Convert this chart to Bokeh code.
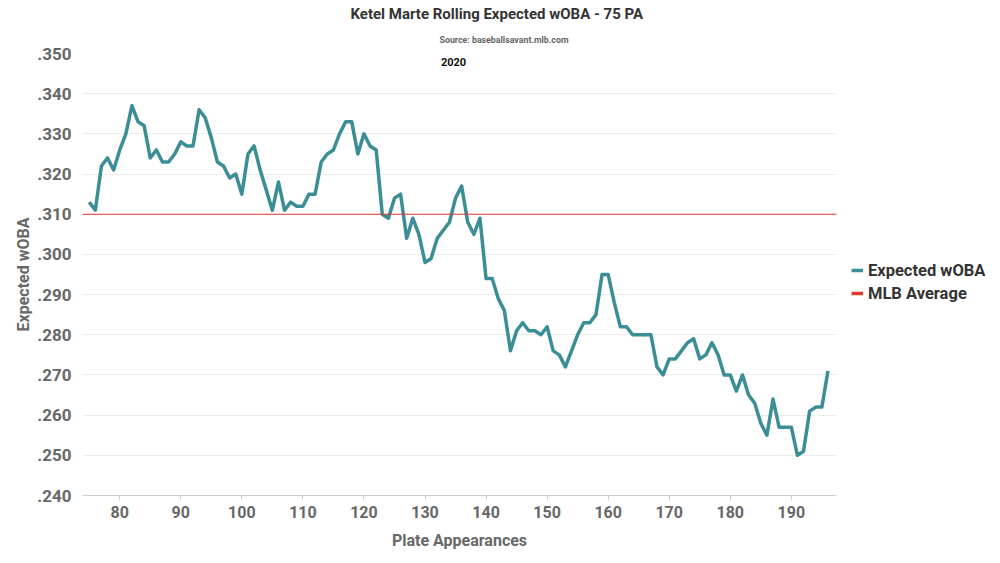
from bokeh.plotting import figure
from bokeh.models import (FixedTicker, CustomJSTickFormatter, Label, Legend, Title, Span,
                          LegendItem, ColumnDataSource, Range1d, CDSView, IndexFilter)
from bokeh.embed import file_html
from bokeh.resources import INLINE

# ---- data ----
plate_appearances = list(range(75, 197))
xwoba = [
    .313, .311, .322, .324, .321, .326, .330, .337, .333, .332,
    .324, .326, .323, .323, .325, .328, .327, .327, .336, .334,
    .329, .323, .322, .319, .320, .315, .325, .327, .321, .316,
    .311, .318, .311, .313, .312, .312, .315, .315, .323, .325,
    .326, .330, .333, .333, .325, .330, .327, .326, .310, .309,
    .314, .315, .304, .309, .305, .298, .299, .304, .306, .308,
    .314, .317, .308, .305, .309, .294, .294, .289, .286, .276,
    .281, .283, .281, .281, .280, .282, .276, .275, .272, .276,
    .280, .283, .283, .285, .295, .295, .288, .282, .282, .280,
    .280, .280, .280, .272, .270, .274, .274, .276, .278, .279,
    .274, .275, .278, .275, .270, .270, .266, .270, .265, .263,
    .258, .255, .264, .257, .257, .257, .250, .251, .261, .262,
    .262, .271,
]
mlb_average = 0.310
x_ticks = [80, 90, 100, 110, 120, 130, 140, 150, 160, 170, 180, 190]
y_ticks = [0.24, 0.25, 0.26, 0.27, 0.28, 0.29, 0.30, 0.31, 0.32, 0.33, 0.34, 0.35]
series_names = ["Expected wOBA", "MLB Average"]
title_text = "Ketel Marte Rolling Expected wOBA - 75 PA"
source_text = "Source: baseballsavant.mlb.com"
season_text = "2020"

FONT = "Roboto"
TEAL = "#3b8e95"
RED = "#e0382f"
GRAY = "#676767"

p = figure(frame_width=754, frame_height=442, output_backend="svg", toolbar_location=None,
           x_range=Range1d(73.9, 197.4), y_range=Range1d(0.240, 0.350),
           min_border_left=82, min_border_right=150, min_border_top=52,
           min_border_bottom=60)
p.outline_line_color = None
p.background_fill_color = "white"
p.border_fill_color = "white"

# titles
p.title.text = title_text
p.title.align = "left"
p.title.offset = 268
p.title.standoff = 4
p.title.text_font = FONT
p.title.text_font_style = "bold"
p.title.text_font_size = "15px"
p.title.text_color = "#333333"
p.add_layout(Title(text=source_text, align="left", offset=357, standoff=17,
                   text_font=FONT, text_font_style="bold", text_font_size="8.8px",
                   text_color="#666666"), "above")

src = ColumnDataSource(dict(x=plate_appearances, y=xwoba))
r_line = p.line("x", "y", source=src, line_color=TEAL, line_width=3.5,
                line_join="round")

p.add_layout(Span(location=mlb_average, dimension="width", line_color=RED,
                  line_width=1.1))
# legend swatch for the average: a one-point line (draws nothing on the plot)
r_avg = p.line("x", "y", source=src, line_color=RED, line_width=3.5,
               view=CDSView(filter=IndexFilter([0])))

# axes
p.xaxis.ticker = FixedTicker(ticks=x_ticks)
p.yaxis.ticker = FixedTicker(ticks=y_ticks)
p.yaxis.formatter = CustomJSTickFormatter(code="return tick.toFixed(3).replace(/^0/, '');")
p.xgrid.grid_line_color = None
p.ygrid.grid_line_color = "#ebebeb"
p.ygrid.grid_line_width = 1

p.yaxis.axis_line_color = None
p.yaxis.major_tick_line_color = None
p.yaxis.minor_tick_line_color = None
p.yaxis.major_label_standoff = 5
p.yaxis.major_label_text_font = FONT
p.yaxis.major_label_text_font_style = "bold"
p.yaxis.major_label_text_font_size = "17px"
p.yaxis.major_label_text_color = GRAY
p.yaxis.axis_label = "Expected wOBA"
p.yaxis.axis_label_text_font = FONT
p.yaxis.axis_label_text_font_style = "bold"
p.yaxis.axis_label_text_font_size = "16px"
p.yaxis.axis_label_text_color = GRAY
p.yaxis.axis_label_standoff = 1

p.xaxis.axis_line_color = "#d0d0d0"
p.xaxis.major_tick_line_color = "#d0d0d0"
p.xaxis.major_tick_out = 5
p.xaxis.major_tick_in = 0
p.xaxis.minor_tick_line_color = None
p.xaxis.major_label_standoff = 5
p.xaxis.major_label_text_font = FONT
p.xaxis.major_label_text_font_style = "bold"
p.xaxis.major_label_text_font_size = "16px"
p.xaxis.major_label_text_color = GRAY
p.xaxis.axis_label = "Plate Appearances"
p.xaxis.axis_label_text_font = FONT
p.xaxis.axis_label_text_font_style = "bold"
p.xaxis.axis_label_text_font_size = "16px"
p.xaxis.axis_label_text_color = GRAY
p.xaxis.axis_label_standoff = 10

legend = Legend(items=[LegendItem(label=series_names[0], renderers=[r_line]),
                       LegendItem(label=series_names[1], renderers=[r_avg])],
                location=(15, 192), orientation="vertical")
legend.label_text_font = FONT
legend.label_text_font_style = "bold"
legend.label_text_font_size = "16.5px"
legend.label_text_color = "#333333"
legend.glyph_width = 12
legend.glyph_height = 20
legend.label_standoff = 5
legend.spacing = 3
legend.padding = 0
legend.margin = 0
legend.border_line_color = None
legend.background_fill_alpha = 0
p.add_layout(legend, "right")

p.add_layout(Label(x=371, y=434, x_units="screen", y_units="screen", text=season_text,
                   text_font=FONT, text_font_style="bold", text_font_size="11px",
                   text_color="#111111", text_align="center", text_baseline="middle"))

open("out.html", "w").write(file_html(p, INLINE))
